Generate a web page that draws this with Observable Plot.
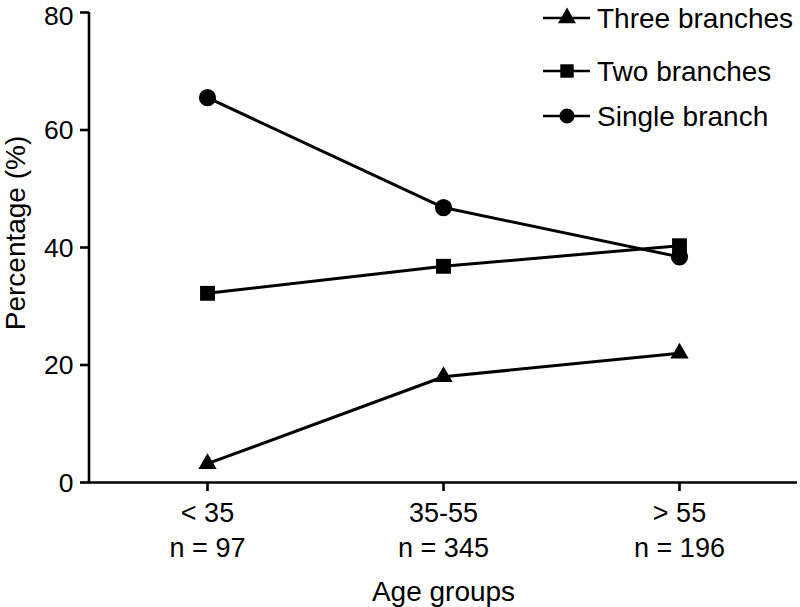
<!DOCTYPE html>
<html>
<head>
<meta charset="utf-8">
<script src="https://cdn.jsdelivr.net/npm/d3@7"></script>
<script src="https://cdn.jsdelivr.net/npm/@observablehq/plot@0.6"></script>
<style>
  html, body { margin: 0; padding: 0; background: #fff; }
  #wrap { position: relative; width: 800px; height: 607px; }
  #wrap svg.plot [aria-label^="x-axis"] line,
  #wrap svg.plot [aria-label^="y-axis"] line,
  #wrap svg.plot [aria-label="x-axis tick"] path,
  #wrap svg.plot [aria-label="y-axis tick"] path { stroke-width: 2.6px; stroke: #000; }
  #overlay { position: absolute; left: 0; top: 0; pointer-events: none; }
</style>
</head>
<body>
<div id="wrap"></div>
<script>
// ---- data ----
const ageGroups = ["< 35", "35-55", "> 55"];
const sampleSizes = ["n = 97", "n = 345", "n = 196"];
const seriesNames = ["Three branches", "Two branches", "Single branch"];
const threeBranches = [3.2, 18.0, 22.0];
const twoBranches = [32.2, 36.8, 40.3];
const singleBranch = [65.5, 46.8, 38.4];
const yTicks = [0, 20, 40, 60, 80];
const xTitle = "Age groups";
const yTitle = "Percentage (%)";

// ---- build table ----
const seriesValues = [threeBranches, twoBranches, singleBranch];
const symbols = ["triangle", "square", "circle"];
const radii = [6.8, 8.4, 8.6];
const rows = [];
seriesNames.forEach((s, i) => ageGroups.forEach((g, j) => rows.push({series: s, group: g, value: seriesValues[i][j]})));

const FONT = "'Liberation Sans', Arial, Helvetica, sans-serif";
const yMax = d3.max(yTicks);

const yAxisLine = (index, scales, values, dimensions) => {
  const line = document.createElementNS("http://www.w3.org/2000/svg", "line");
  const x0 = dimensions.marginLeft;
  line.setAttribute("x1", x0);
  line.setAttribute("x2", x0);
  line.setAttribute("y1", scales.y(0) + 1.3);
  line.setAttribute("y2", scales.y(yMax));
  line.setAttribute("stroke", "#000");
  line.setAttribute("stroke-width", 2.6);
  return line;
};

const chart = Plot.plot({
  width: 800,
  height: 607,
  marginLeft: 89,
  marginRight: 3,
  marginTop: 12,
  marginBottom: 125,
  style: {fontFamily: FONT, fontSize: "27px", color: "#000", background: "#fff", overflow: "visible"},
  x: {type: "point", domain: ageGroups, padding: 0.5, tickSize: 9, tickFormat: () => "", label: null},
  y: {domain: [0, yMax], ticks: yTicks, tickSize: 9, tickFormat: () => "", label: null},
  marks: [
    Plot.ruleY([0], {stroke: "#000", strokeWidth: 2.6}),
    yAxisLine,
    // y tick labels
    Plot.text(yTicks.filter(v => v < yMax), {y: d => d, text: d => String(d), frameAnchor: "left", textAnchor: "end", lineAnchor: "middle", dx: -16, dy: 1, fontSize: 26.5, fill: "#000"}),
    Plot.text([yMax], {y: d => d, text: d => String(d), frameAnchor: "left", textAnchor: "end", lineAnchor: "middle", dx: -16, dy: 4, fontSize: 26.5, fill: "#000"}),
    ...seriesNames.map(s => Plot.line(rows.filter(d => d.series === s), {x: "group", y: "value", stroke: "#000", strokeWidth: 3})),
    ...seriesNames.map((s, i) => Plot.dot(rows.filter(d => d.series === s), {x: "group", y: "value", symbol: () => symbols[i], r: radii[i], fill: "#000", stroke: "none"})),
    Plot.text(ageGroups, {x: d => d, frameAnchor: "bottom", lineAnchor: "middle", dy: 31, fontSize: 27, fill: "#000"}),
    Plot.text(ageGroups, {x: d => d, text: (d, i) => sampleSizes[i], frameAnchor: "bottom", lineAnchor: "middle", dy: 66, fontSize: 27, fill: "#000"}),
    Plot.text([xTitle], {frameAnchor: "bottom", lineAnchor: "middle", dy: 110, fontSize: 28, fill: "#000"})
  ]
});
chart.classList.add("plot");
const wrap = document.getElementById("wrap");
wrap.appendChild(chart);

// ---- overlay: y title and legend ----
const ov = d3.select(wrap).append("svg").attr("id", "overlay").attr("width", 800).attr("height", 607);
ov.append("text")
  .attr("transform", "translate(15,233) rotate(-90)")
  .attr("text-anchor", "middle").attr("dy", "0.35em")
  .attr("font-family", FONT).attr("font-size", 28).attr("fill", "#000")
  .text(yTitle);

const legendRowsY = [18, 71, 116];
const legendSizes = [140, 180, 180];
seriesNames.forEach((s, i) => {
  const g = ov.append("g").attr("transform", `translate(0,${legendRowsY[i]})`);
  g.append("line").attr("x1", 543).attr("x2", 590).attr("y1", 0).attr("y2", 0).attr("stroke", "#000").attr("stroke-width", 2.6);
  const sym = [d3.symbolTriangle, d3.symbolSquare, d3.symbolCircle][i];
  g.append("path").attr("d", d3.symbol(sym, legendSizes[i])()).attr("transform", "translate(567,0)").attr("fill", "#000");
  g.append("text").attr("x", 597).attr("y", 0).attr("dy", "0.35em").attr("font-family", FONT).attr("font-size", 28).attr("fill", "#000").text(s);
});
</script>
</body>
</html>
